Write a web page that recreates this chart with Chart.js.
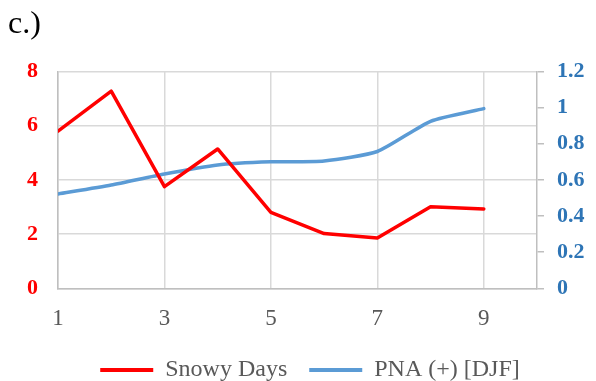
<!DOCTYPE html>
<html>
<head>
<meta charset="utf-8">
<script src="https://cdn.jsdelivr.net/npm/chart.js@4.4.1/dist/chart.umd.min.js"></script>
<style>
  html, body { margin: 0; padding: 0; background: #ffffff; }
  #wrap { width: 596px; height: 381px; }
</style>
</head>
<body>
<div id="wrap"><canvas id="c" width="596" height="381"></canvas></div>
<script>
// Period index along the bottom axis
const periods = [1, 2, 3, 4, 5, 6, 7, 8, 9];
// Number of snowy days (left axis)
const snowyDays = [5.8, 7.27, 3.75, 5.14, 2.8, 2.02, 1.86, 3.01, 2.93];
// Positive PNA index, DJF (right axis)
const pnaDJF = [0.522, 0.572, 0.633, 0.683, 0.70, 0.705, 0.757, 0.924, 0.994];
// Labelled ticks on the bottom axis
const periodTicks = [1, 3, 5, 7, 9];

const serif = "'Liberation Serif', 'Times New Roman', serif";
const gridGrey = '#d9d9d9';
const axisGrey = '#bfbfbf';

const pts = (vals) => periods.map((p, i) => ({ x: p, y: vals[i] }));

// Nudge the legend row up towards the axis labels and slightly right
const legendNudge = {
  id: 'legendNudge',
  afterLayout(chart) {
    const lg = chart.legend;
    if (!lg) return;
    const dy = -14, dx = 8;
    lg.top += dy; lg.bottom += dy;
    lg.left += dx; lg.right += dx;
    if (lg.legendHitBoxes) lg.legendHitBoxes.forEach(b => { b.top += dy; b.left += dx; });
  }
};

new Chart(document.getElementById('c'), {
  type: 'line',
  data: {
    datasets: [
      {
        label: 'Snowy Days',
        data: pts(snowyDays),
        yAxisID: 'y',
        borderColor: '#ff0000',
        backgroundColor: '#ff0000',
        borderWidth: 3.5,
        pointRadius: 0,
        tension: 0,
        borderCapStyle: 'round',
        borderJoinStyle: 'round'
      },
      {
        label: 'PNA (+) [DJF]',
        data: pts(pnaDJF),
        yAxisID: 'y1',
        borderColor: '#5b9bd5',
        backgroundColor: '#5b9bd5',
        borderWidth: 3.5,
        pointRadius: 0,
        tension: 0.2,
        borderCapStyle: 'round',
        borderJoinStyle: 'round'
      }
    ]
  },
  plugins: [legendNudge],
  options: {
    responsive: false,
    animation: false,
    layout: { padding: { left: 8, right: 0, top: 5, bottom: -25 } },
    plugins: {
      title: {
        display: true,
        text: 'c.)',
        align: 'start',
        color: '#000000',
        font: { family: serif, size: 32, weight: 'normal' },
        padding: { top: 0, bottom: 28 }
      },
      legend: {
        display: true,
        position: 'bottom',
        labels: {
          color: '#595959',
          font: { family: serif, size: 24 },
          boxWidth: 53,
          boxHeight: 4,
          padding: 22,
          generateLabels(chart) {
            return chart.data.datasets.map((ds, i) => ({
              text: ds.label,
              fillStyle: ds.borderColor,
              strokeStyle: ds.borderColor,
              lineWidth: 0,
              fontColor: '#595959',
              datasetIndex: i,
              hidden: false
            }));
          }
        }
      },
      tooltip: { enabled: false }
    },
    scales: {
      x: {
        type: 'linear',
        min: 1,
        max: 10,
        afterBuildTicks(axis) {
          axis.ticks = periodTicks.map(v => ({ value: v }));
        },
        grid: { color: gridGrey, lineWidth: 1.5, drawTicks: false },
        border: { color: axisGrey, width: 1.5 },
        ticks: {
          color: '#595959',
          font: { family: serif, size: 23 },
          padding: 17,
          maxRotation: 0,
          callback: (v) => String(v)
        }
      },
      y: {
        position: 'left',
        min: 0,
        max: 8,
        afterFit(axis) { axis.width = 50; },
        grid: { color: gridGrey, lineWidth: 1.5, drawTicks: false },
        border: { color: axisGrey, width: 1.5 },
        ticks: {
          stepSize: 2,
          color: '#ff0000',
          font: { family: serif, size: 22, weight: 'bold' },
          padding: 20
        }
      },
      y1: {
        position: 'right',
        min: 0,
        max: 1.2,
        afterFit(axis) { axis.width = 59; },
        grid: { drawOnChartArea: false, color: axisGrey, lineWidth: 1.5, tickLength: 7 },
        border: { color: axisGrey, width: 1.5 },
        ticks: {
          stepSize: 0.2,
          color: '#2e75b6',
          font: { family: serif, size: 22, weight: 'bold' },
          padding: 13,
          callback: (v) => String(Number(v.toFixed(1)))
        }
      }
    }
  }
});
</script>
</body>
</html>
